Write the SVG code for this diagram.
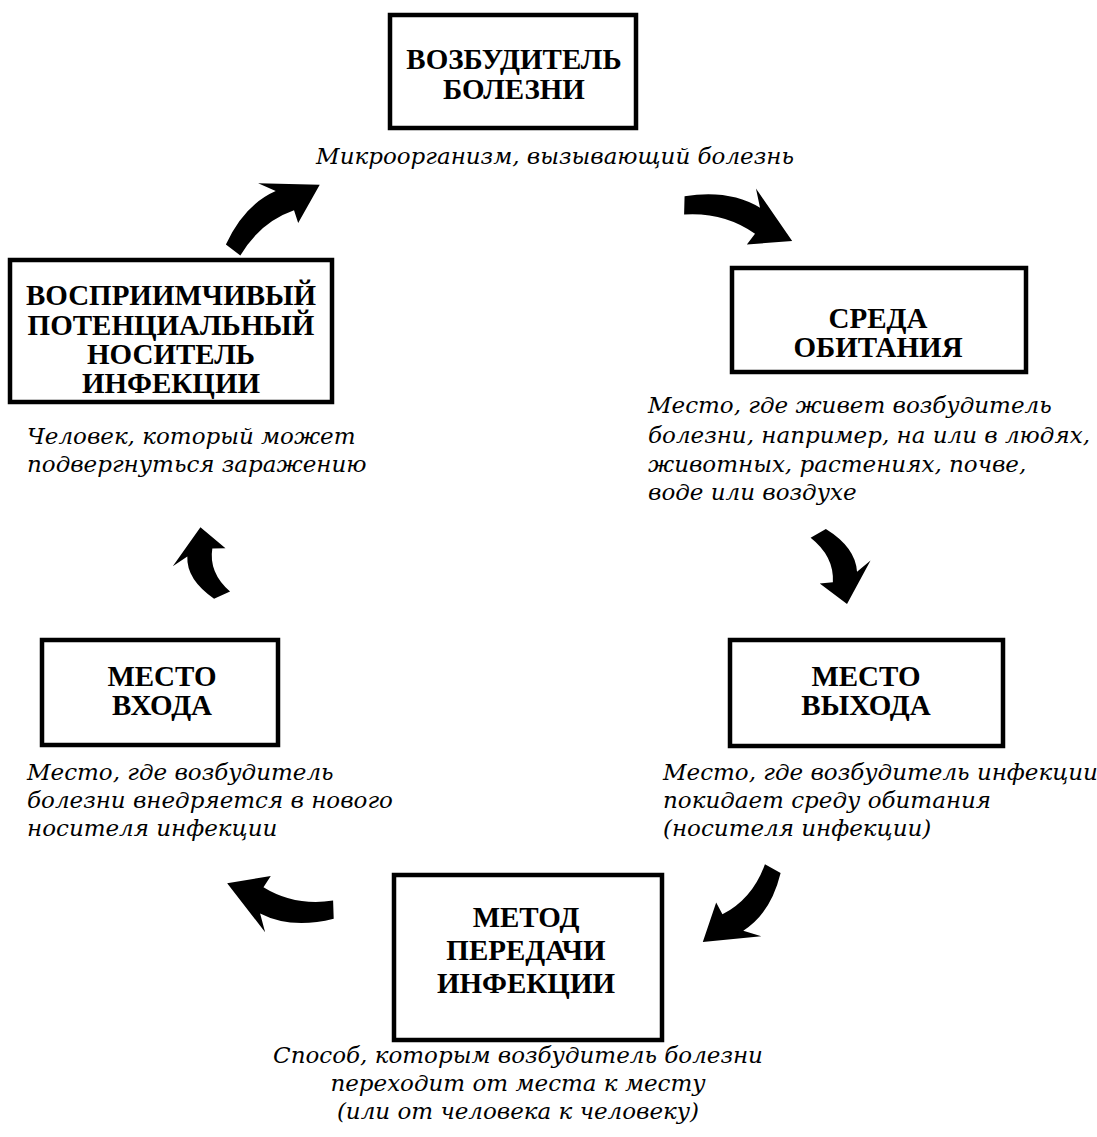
<svg xmlns="http://www.w3.org/2000/svg" width="1097" height="1137" viewBox="0 0 1097 1137">
<style>
.box{fill:#fff;stroke:#000;stroke-width:4.5}
.h{font-family:"Liberation Serif","Times New Roman",serif;font-weight:bold;font-size:29px;fill:#000;text-anchor:middle}
.c{font-family:"DejaVu Serif",serif;font-style:italic;font-size:23px;fill:#000}
.m{text-anchor:middle}
.arr{fill:#000}
</style>
<defs>
<path id="arrow" class="arr" d="M 0,-4 Q 34,-28 66,-23 L 56,-39 L 104,-5 L 68,16 L 71,3 Q 38,-5 6,13 Z"/>
</defs>
<rect width="1097" height="1137" fill="#fff"/>
<g id="node-pathogen">
<rect class="box" x="390" y="15" width="246" height="113"/>
<text class="h" x="514" y="69">ВОЗБУДИТЕЛЬ</text>
<text class="h" x="514" y="99">БОЛЕЗНИ</text>
<text class="c m" x="555" y="164">Микроорганизм, вызывающий болезнь</text>
</g>
<g id="node-reservoir">
<rect class="box" x="732" y="268" width="294" height="104"/>
<text class="h" x="878" y="328">СРЕДА</text>
<text class="h" x="878" y="357">ОБИТАНИЯ</text>
<text class="c" x="648" y="413">Место, где живет возбудитель</text>
<text class="c" x="648" y="443">болезни, например, на или в людях,</text>
<text class="c" x="648" y="472">животных, растениях, почве,</text>
<text class="c" x="648" y="500">воде или воздухе</text>
</g>
<g id="node-host">
<rect class="box" x="10" y="260" width="322" height="142"/>
<text class="h" x="171" y="305">ВОСПРИИМЧИВЫЙ</text>
<text class="h" x="171" y="335">ПОТЕНЦИАЛЬНЫЙ</text>
<text class="h" x="171" y="364">НОСИТЕЛЬ</text>
<text class="h" x="171" y="393">ИНФЕКЦИИ</text>
<text class="c" x="27" y="444">Человек, который может</text>
<text class="c" x="27" y="472">подвергнуться заражению</text>
</g>
<g id="node-entry">
<rect class="box" x="42" y="640" width="236" height="105"/>
<text class="h" x="162" y="686">МЕСТО</text>
<text class="h" x="162" y="715">ВХОДА</text>
<text class="c" x="27" y="780">Место, где возбудитель</text>
<text class="c" x="27" y="808">болезни внедряется в нового</text>
<text class="c" x="27" y="836">носителя инфекции</text>
</g>
<g id="node-exit">
<rect class="box" x="730" y="640" width="273" height="106"/>
<text class="h" x="866" y="686">МЕСТО</text>
<text class="h" x="866" y="715">ВЫХОДА</text>
<text class="c" x="663" y="780">Место, где возбудитель инфекции</text>
<text class="c" x="663" y="808">покидает среду обитания</text>
<text class="c" x="663" y="836">(носителя инфекции)</text>
</g>
<g id="node-transmission">
<rect class="box" x="394" y="875" width="268" height="165"/>
<text class="h" x="526" y="927">МЕТОД</text>
<text class="h" x="526" y="960">ПЕРЕДАЧИ</text>
<text class="h" x="526" y="993">ИНФЕКЦИИ</text>
<text class="c m" x="518" y="1063">Способ, которым возбудитель болезни</text>
<text class="c m" x="518" y="1091">переходит от места к месту</text>
<text class="c m" x="518" y="1119">(или от человека к человеку)</text>
</g>
<g id="connectors">
<use href="#arrow" transform="translate(228,248) rotate(-32) scale(1.07,1)"/>
<use href="#arrow" transform="translate(683,200) rotate(23) scale(1.12,1)"/>
<use href="#arrow" transform="translate(822,530) rotate(75) scale(0.75,1)"/>
<use href="#arrow" transform="translate(778,870) rotate(139) scale(1,1)"/>
<use href="#arrow" transform="translate(335,915) rotate(199) scale(1.08,1)"/>
<use href="#arrow" transform="translate(218,598) rotate(-100) scale(0.7,1)"/>
</g>
</svg>
